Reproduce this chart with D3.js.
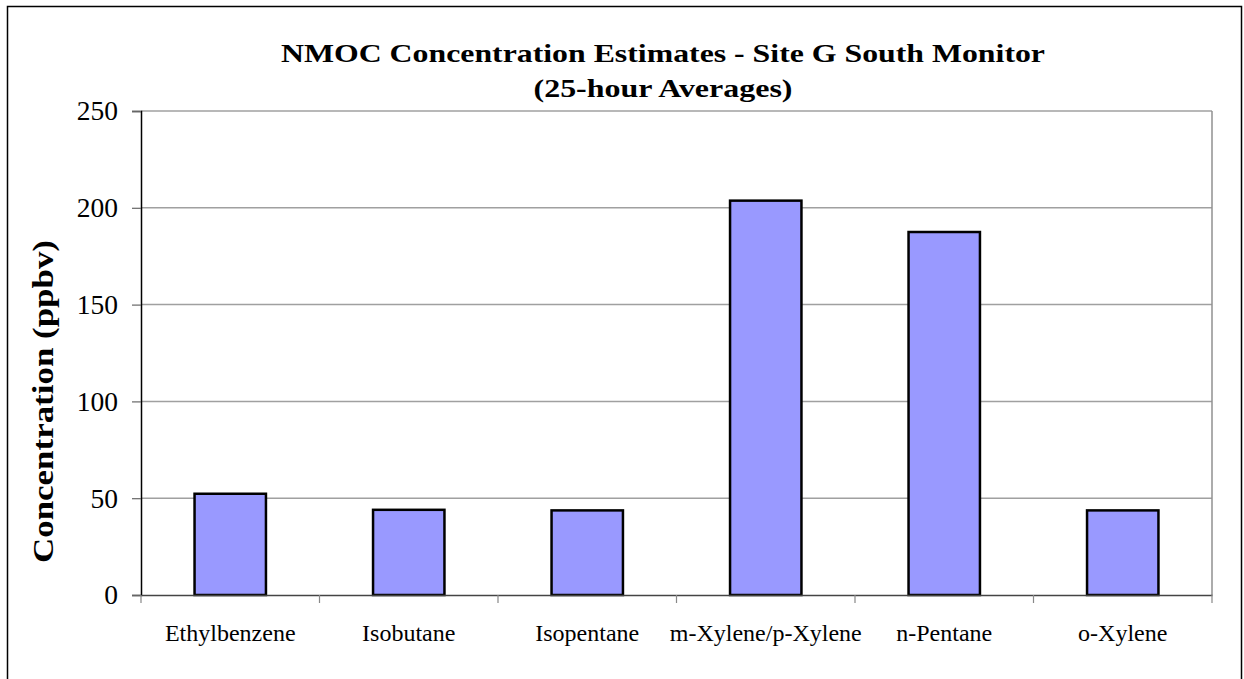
<!DOCTYPE html>
<html><head><meta charset="utf-8">
<script src="https://cdn.jsdelivr.net/npm/d3@7"></script>
<style>body{margin:0;background:#fff}svg{display:block}</style>
</head><body>
<svg id="c" width="1244" height="679"></svg>
<script>
const categories = ["Ethylbenzene","Isobutane","Isopentane","m-Xylene/p-Xylene","n-Pentane","o-Xylene"];
const values = [52.3, 44.0, 43.7, 203.7, 187.5, 43.7];
const yTicks = [0,50,100,150,200,250];
const titleLines = ["NMOC Concentration Estimates - Site G South Monitor","(25-hour Averages)"];
const yLabel = "Concentration (ppbv)";

const svg = d3.select("#c");
const L=141, R=1212, T=111, B=595;
const font = "'Liberation Serif', 'Times New Roman', serif";

svg.append("rect").attr("x",7.5).attr("y",6.5).attr("width",1234).attr("height",700)
  .attr("fill","none").attr("stroke","#000").attr("stroke-width",1.5);

const x = d3.scaleBand().domain(categories).range([L,R]).paddingInner(0.6).paddingOuter(0.3);
const y = d3.scaleLinear().domain([0,250]).range([B,T]);

// gridlines
svg.append("g").selectAll("line").data(yTicks.filter(d=>d>0)).join("line")
  .attr("x1",L).attr("x2",R).attr("y1",d=>y(d)).attr("y2",d=>y(d))
  .attr("stroke","#a0a0a0").attr("stroke-width",1.5);
// right border
svg.append("line").attr("x1",R).attr("x2",R).attr("y1",T).attr("y2",B)
  .attr("stroke","#909090").attr("stroke-width",1.5);

// bars
svg.append("g").selectAll("rect").data(categories).join("rect")
  .attr("x",d=>x(d)).attr("width",x.bandwidth())
  .attr("y",(d,i)=>y(values[i])).attr("height",(d,i)=>B-y(values[i]))
  .attr("fill","#9999ff").attr("stroke","#000").attr("stroke-width",2.5);

// y axis
const ya = svg.append("g").attr("transform",`translate(${L},0)`)
  .call(d3.axisLeft(y).tickValues(yTicks).tickSize(9).tickPadding(14));
ya.select(".domain").attr("stroke","#000").attr("stroke-width",1.5);
ya.selectAll(".tick line").attr("stroke","#666").attr("stroke-width",1.2);
ya.selectAll("text").style("font-family",font).style("font-size","27.5px").attr("fill","#000");

// x axis
const xa = svg.append("g").attr("transform",`translate(0,${B})`)
  .call(d3.axisBottom(x).tickSize(0).tickPadding(29));
xa.select(".domain").attr("stroke","#444").attr("stroke-width",1.5);
xa.selectAll("text").style("font-family",font).style("font-size","24px").attr("fill","#000");
const bounds = d3.range(categories.length+1).map(i=>L+i*x.step());
xa.append("g").selectAll("line").data(bounds).join("line")
  .attr("x1",d=>d).attr("x2",d=>d).attr("y1",0).attr("y2",8)
  .attr("stroke","#888").attr("stroke-width",1.2);

// title (glyphs stretched horizontally as in the reference)
const tw = [764, 259];
svg.append("g").selectAll("text").data(titleLines).join("text")
  .attr("x",(d,i)=>663 - tw[i]/2).attr("y",(d,i)=>i?97:62)
  .attr("textLength",(d,i)=>tw[i]).attr("lengthAdjust","spacingAndGlyphs")
  .style("font-family",font).style("font-weight","bold").style("font-size","25px")
  .text(d=>d);

// y label
svg.append("text").attr("transform","translate(53,563) rotate(-90)")
  .attr("textLength",323).attr("lengthAdjust","spacingAndGlyphs")
  .style("font-family",font).style("font-weight","bold")
  .style("font-size","29px").text(yLabel);
</script>
</body></html>
